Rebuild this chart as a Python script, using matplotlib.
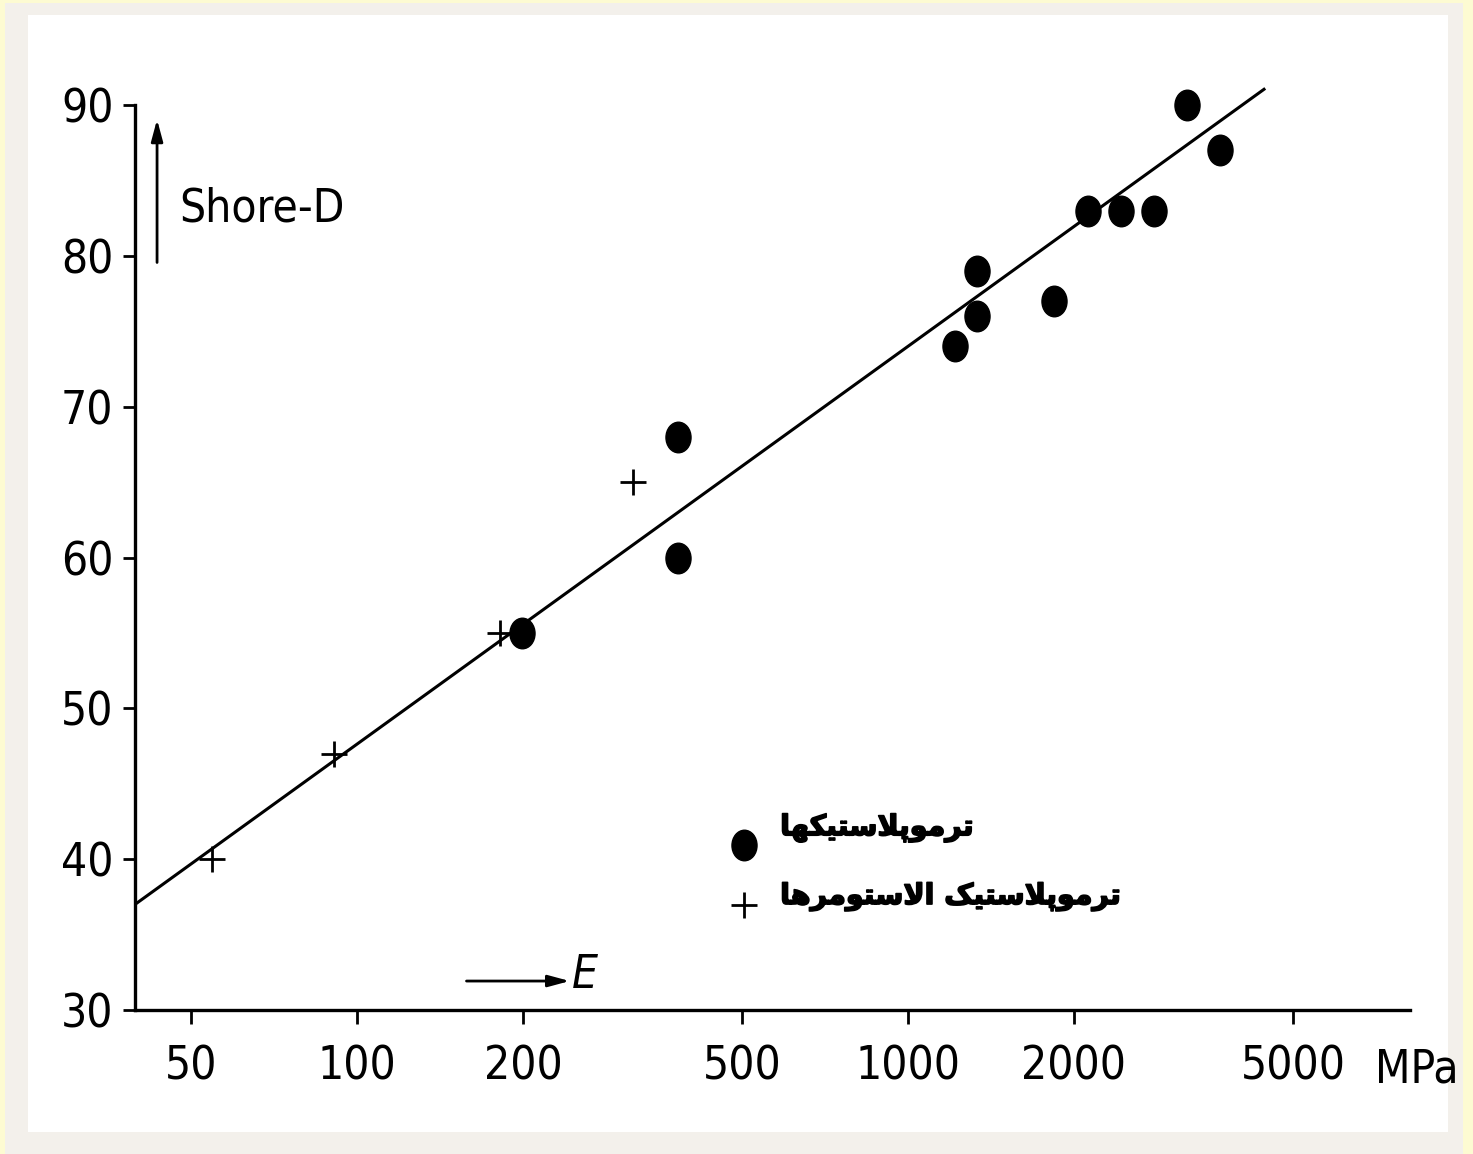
import matplotlib
matplotlib.use("Agg")
import matplotlib.pyplot as plt
import matplotlib.patheffects as pe
from matplotlib.patches import Rectangle
from matplotlib.markers import MarkerStyle
from matplotlib.transforms import Affine2D
from matplotlib.ticker import FixedLocator, FixedFormatter, NullLocator
from matplotlib import font_manager
from matplotlib.font_manager import FontProperties

# thermoplastics (filled circles)
tp_E = [199, 382, 382, 1217, 1334, 1334, 1841, 2122, 2436, 2796, 3209, 3681]
tp_shore = [55, 68, 60, 74, 79, 76, 77, 83, 83, 83, 90, 87]

# thermoplastic elastomers (plus signs)
tpe_E = [54.6, 90.8, 181.7, 317]
tpe_shore = [40, 47, 55, 65]

# regression line end points
fit_E = [39.5, 4450]
fit_shore = [37.0, 91.1]

x_ticks = [50, 100, 200, 500, 1000, 2000, 5000]
x_labels = ["50", "100", "200", "500", "1000", "2000", "5000"]
y_ticks = [30, 40, 50, 60, 70, 80, 90]

label_tp = "ترموپلاستیکها"
label_tpe = "ترموپلاستیک الاستومرها"

# --- simple Persian shaping (presentation forms + right-to-left order) ---
FORMS = {  # isolated, final, initial, medial
    "ا": ("\uFE8D", "\uFE8E", None, None),
    "ت": ("\uFE95", "\uFE96", "\uFE97", "\uFE98"),
    "ر": ("\uFEAD", "\uFEAE", None, None),
    "م": ("\uFEE1", "\uFEE2", "\uFEE3", "\uFEE4"),
    "و": ("\uFEED", "\uFEEE", None, None),
    "پ": ("\uFB56", "\uFB57", "\uFB58", "\uFB59"),
    "ل": ("\uFEDD", "\uFEDE", "\uFEDF", "\uFEE0"),
    "س": ("\uFEB1", "\uFEB2", "\uFEB3", "\uFEB4"),
    "ی": ("\uFBFC", "\uFBFD", "\uFBFE", "\uFBFF"),
    "ک": ("\uFB8E", "\uFB8F", "\uFB90", "\uFB91"),
    "ه": ("\uFEE9", "\uFEEA", "\uFEEB", "\uFEEC"),
    "لا": ("\uFEFB", "\uFEFC", None, None),
}


def shape(text):
    out = []
    for word in text.split(" "):
        letters = []
        i = 0
        while i < len(word):
            if word[i:i + 2] == "لا":
                letters.append("لا")
                i += 2
            else:
                letters.append(word[i])
                i += 1
        glyphs = []
        for k, ch in enumerate(letters):
            iso, fin, ini, med = FORMS[ch]
            prev_joins = k > 0 and FORMS[letters[k - 1]][2] is not None
            next_joins = k < len(letters) - 1 and ini is not None
            if prev_joins and next_joins:
                glyphs.append(med)
            elif prev_joins:
                glyphs.append(fin)
            elif next_joins:
                glyphs.append(ini)
            else:
                glyphs.append(iso)
        out.append("".join(glyphs))
    return " ".join(out)[::-1]


# narrow sans for the numbers if one is installed
def pick_narrow(styles):
    best = None
    for f in font_manager.fontManager.ttflist:
        narrow = ("Narrow" in f.name or "Condensed" in f.name
                  or str(f.stretch) in ("condensed", "semi-condensed", "extra-condensed"))
        if not narrow or f.style not in styles or f.weight not in (400, "normal", "regular"):
            continue
        if "Mono" in f.name or "Serif" in f.name:
            continue
        if best is None or "Liberation" in f.name:
            best = f
    return best


num_size = 33
narrow = pick_narrow(("normal",))
narrow_it = pick_narrow(("italic", "oblique"))
if narrow is not None:
    num_fp = FontProperties(fname=narrow.fname, size=num_size)
else:
    num_fp = FontProperties(family="Liberation Sans", size=30)
if narrow_it is not None:
    it_fp = FontProperties(fname=narrow_it.fname, size=num_size)
else:
    it_fp = FontProperties(family="Liberation Sans", style="italic", size=30)

W, H = 1473, 1154
fig = plt.figure(figsize=(W / 100, H / 100), dpi=100, facecolor="#fdfbd2")
fig.patches.append(Rectangle((5 / W, 0), 1458 / W, 1 - 3 / H, transform=fig.transFigure,
                             facecolor="#f3f0eb", edgecolor="none", zorder=-10))
fig.patches.append(Rectangle((28 / W, 22 / H), 1420 / W, 1 - 37 / H, transform=fig.transFigure,
                             facecolor="white", edgecolor="none", zorder=-9))

ax = fig.add_axes([135 / W, 1 - 1010 / H, 1275 / W, 905 / H])
ax.set_facecolor("none")
ax.set_xscale("log")
ax.set_xlim(39.5, 8150)
ax.set_ylim(30, 90)

ax.plot(fit_E, fit_shore, color="black", lw=2.2, solid_capstyle="butt", zorder=2,
        clip_on=False)

ellipse = MarkerStyle("o", transform=Affine2D().scale(0.82, 1.0))
ax.plot(tp_E, tp_shore, ls="none", marker=ellipse, ms=22, color="black", zorder=3,
        clip_on=False)
ax.plot(tpe_E, tpe_shore, ls="none", marker="+", ms=19, mew=2.0, color="black", zorder=3,
        clip_on=False)

for s in ["top", "right"]:
    ax.spines[s].set_visible(False)
for s in ["left", "bottom"]:
    ax.spines[s].set_linewidth(2.4)

ax.xaxis.set_major_locator(FixedLocator(x_ticks))
ax.xaxis.set_major_formatter(FixedFormatter(x_labels))
ax.xaxis.set_minor_locator(NullLocator())
ax.set_yticks(y_ticks)
ax.tick_params(axis="x", direction="out", length=10, width=2, pad=15)
ax.tick_params(axis="y", direction="out", length=8.5, width=2, pad=7)
for lab in ax.get_xticklabels() + ax.get_yticklabels():
    lab.set_fontproperties(num_fp)

ax.text(0.9725, -0.066, "MPa", transform=ax.transAxes, ha="left", va="center",
        fontproperties=num_fp)

# axis direction arrows
ax.annotate("", xy=(0.0173, 0.984), xytext=(0.0173, 0.826), xycoords="axes fraction",
            arrowprops=dict(arrowstyle="-|>,head_length=1.3,head_width=0.35",
                            lw=2, color="black", shrinkA=0, shrinkB=0))
ax.text(0.035, 0.885, "Shore-D", transform=ax.transAxes, ha="left", va="center",
        fontproperties=num_fp)
ax.annotate("", xy=(0.341, 0.032), xytext=(0.260, 0.032), xycoords="axes fraction",
            arrowprops=dict(arrowstyle="-|>,head_length=1.3,head_width=0.35",
                            lw=2, color="black", shrinkA=0, shrinkB=0))
ax.text(0.343, 0.038, "E", transform=ax.transAxes, ha="left", va="center",
        fontproperties=it_fp)

# legend
ax.plot([0.4776], [0.1823], transform=ax.transAxes, marker=ellipse, ms=22,
        color="black", clip_on=False)
ax.plot([0.4776], [0.116], transform=ax.transAxes, marker="+", ms=19, mew=2.0,
        color="black", clip_on=False)
bold = [pe.withStroke(linewidth=1.2, foreground="black")]
ax.text(0.506, 0.201, shape(label_tp), transform=ax.transAxes, ha="left", va="center",
        fontsize=20.5, fontweight="bold", family="DejaVu Sans", path_effects=bold)
ax.text(0.506, 0.125, shape(label_tpe), transform=ax.transAxes, ha="left", va="center",
        fontsize=20.5, fontweight="bold", family="DejaVu Sans", path_effects=bold)

fig.savefig("out.png", dpi=100, facecolor=fig.get_facecolor())
